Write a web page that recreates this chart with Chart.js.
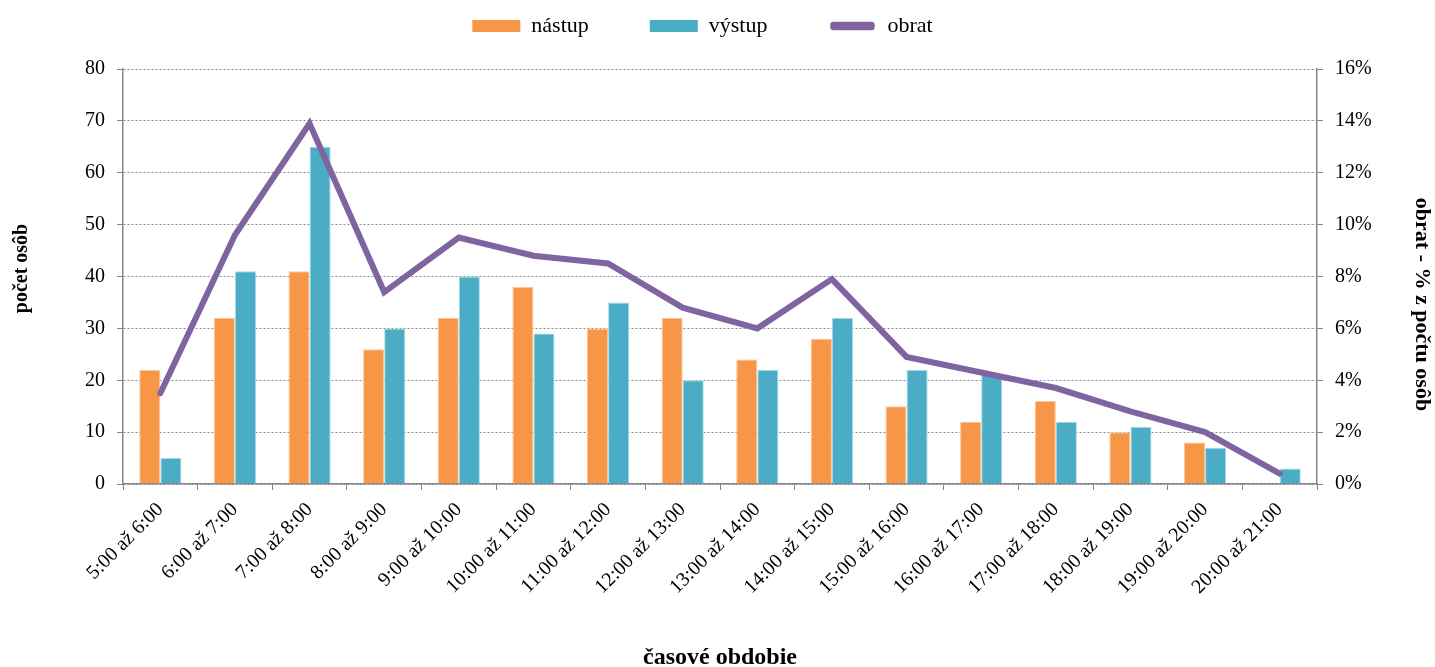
<!DOCTYPE html>
<html>
<head>
<meta charset="utf-8">
<script src="https://cdn.jsdelivr.net/npm/chart.js@4.4.1/dist/chart.umd.min.js"></script>
<style>
html,body{margin:0;padding:0;background:#fff;}
#wrap{width:1435px;height:667px;position:relative;}
</style>
</head>
<body>
<div id="wrap"><canvas id="c" width="1435" height="667"></canvas></div>
<script>
const categories = ["5:00 až 6:00","6:00 až 7:00","7:00 až 8:00","8:00 až 9:00","9:00 až 10:00","10:00 až 11:00","11:00 až 12:00","12:00 až 13:00","13:00 až 14:00","14:00 až 15:00","15:00 až 16:00","16:00 až 17:00","17:00 až 18:00","18:00 až 19:00","19:00 až 20:00","20:00 až 21:00"];
const nastup = [22,32,41,26,32,38,30,32,24,28,15,12,16,10,8,0];
const vystup = [5,41,65,30,40,29,35,20,22,32,22,21,12,11,7,3];
const obrat = [3.5,9.6,13.9,7.4,9.5,8.8,8.5,6.8,6.0,7.9,4.9,4.3,3.7,2.8,2.0,0.4];
const seriesNames = ["nástup","výstup","obrat"];
const leftTitle = "počet osôb";
const rightTitle = "obrat - % z počtu osôb";
const xTitle = "časové obdobie";

const FONT = "'Liberation Serif', 'Times New Roman', serif";
const axisColor = '#868686';

function shiftTitle(scale, dy) {
  if (!scale || scale._titlePatched) return;
  const f = scale.drawTitle.bind(scale);
  scale.drawTitle = function () {
    this.top += dy; this.bottom += dy;
    f();
    this.top -= dy; this.bottom -= dy;
  };
  scale._titlePatched = true;
}

const layoutTweak = {
  id: 'layoutTweak',
  beforeLayout(chart) {
    const lg = chart.legend;
    if (lg && !lg._patched) {
      const f = lg.fit.bind(lg);
      lg.fit = function () { f(); this.height = 69; };
      lg._patched = true;
    }
  },
  afterLayout(chart) {
    const lg = chart.legend;
    if (lg) {
      const DX = -19, DY = -46;
      lg.left += DX; lg.right += DX; lg.top += DY;
    }
    shiftTitle(chart.scales.y, -8);
    shiftTitle(chart.scales.y1, 28);
  }
};

new Chart(document.getElementById('c'), {
  data: {
    labels: categories,
    datasets: [
      {type:'bar', label: seriesNames[0], data: nastup, backgroundColor:'#F79646', borderColor:'#FBC49A', borderWidth:{top:1,left:1,right:1,bottom:0}, yAxisID:'y', order:1, barPercentage:1, categoryPercentage:0.565},
      {type:'bar', label: seriesNames[1], data: vystup, backgroundColor:'#4BACC6', borderColor:'#A5D8E6', borderWidth:{top:1,left:1,right:1,bottom:0}, yAxisID:'y', order:1, barPercentage:1, categoryPercentage:0.565},
      {type:'line', label: seriesNames[2], data: obrat, borderColor:'#8064A2', backgroundColor:'#8064A2', borderWidth:6, pointRadius:0, borderCapStyle:'round', borderJoinStyle:'miter', yAxisID:'y1', order:0, tension:0}
    ]
  },
  plugins: [layoutTweak],
  options: {
    responsive:false,
    animation:false,
    layout:{padding:{left:8,right:0,top:0,bottom:0}},
    plugins:{
      tooltip:{enabled:false},
      legend:{
        position:'top',
        labels:{
          font:{family:FONT,size:22},
          color:'#000',
          boxWidth:48,
          boxHeight:12,
          padding:61,
          sort:(a,b)=>a.datasetIndex-b.datasetIndex,
          useBorderRadius:true,
          borderRadius:0,
          generateLabels:(chart)=>{
            const items = Chart.defaults.plugins.legend.labels.generateLabels(chart);
            items.forEach(it=>{
              if(it.datasetIndex===2){ it.lineWidth=3.5; it.fillStyle='#8064A2'; it.strokeStyle='#ffffff'; it.borderRadius=5; }
              else { it.lineWidth=0; it.borderRadius=0; }
            });
            return items;
          }
        }
      }
    },
    scales:{
      x:{
        offset:true,
        grid:{drawOnChartArea:false, drawTicks:true, tickLength:6, color:axisColor, offset:true},
        border:{color:axisColor, width:1.5},
        ticks:{font:{family:FONT,size:20}, color:'#000', minRotation:45, maxRotation:45, autoSkip:false, padding:8},
        title:{display:true, text:xTitle, font:{family:FONT,size:24,weight:'bold'}, color:'#000', padding:{top:0,bottom:-5}},
        afterFit:(s)=>{ s.height = 183; }
      },
      y:{
        position:'left',
        min:0,max:80,
        ticks:{stepSize:10, font:{family:FONT,size:20}, color:'#000', padding:12},
        grid:{color:'#8a8a8a', lineWidth:1, tickLength:6, tickColor:axisColor, tickBorderDash:[]},
        border:{color:axisColor, width:1.5, dash:[2,2]},
        title:{display:true, text:leftTitle, font:{family:FONT,size:20,weight:'bold'}, color:'#000', padding:{top:2,bottom:0}},
        afterFit:(s)=>{ s.width = 115; }
      },
      y1:{
        position:'right',
        min:0,max:16,
        ticks:{stepSize:2, font:{family:FONT,size:20}, color:'#000', padding:12, callback:(v)=>v+'%'},
        grid:{drawOnChartArea:false, tickLength:6, color:axisColor},
        border:{color:axisColor, width:1.5},
        title:{display:true, text:rightTitle, font:{family:FONT,size:22,weight:'bold'}, color:'#000', padding:{top:0,bottom:0}},
        afterFit:(s)=>{ s.width = 118; }
      }
    }
  }
});
</script>
</body>
</html>
